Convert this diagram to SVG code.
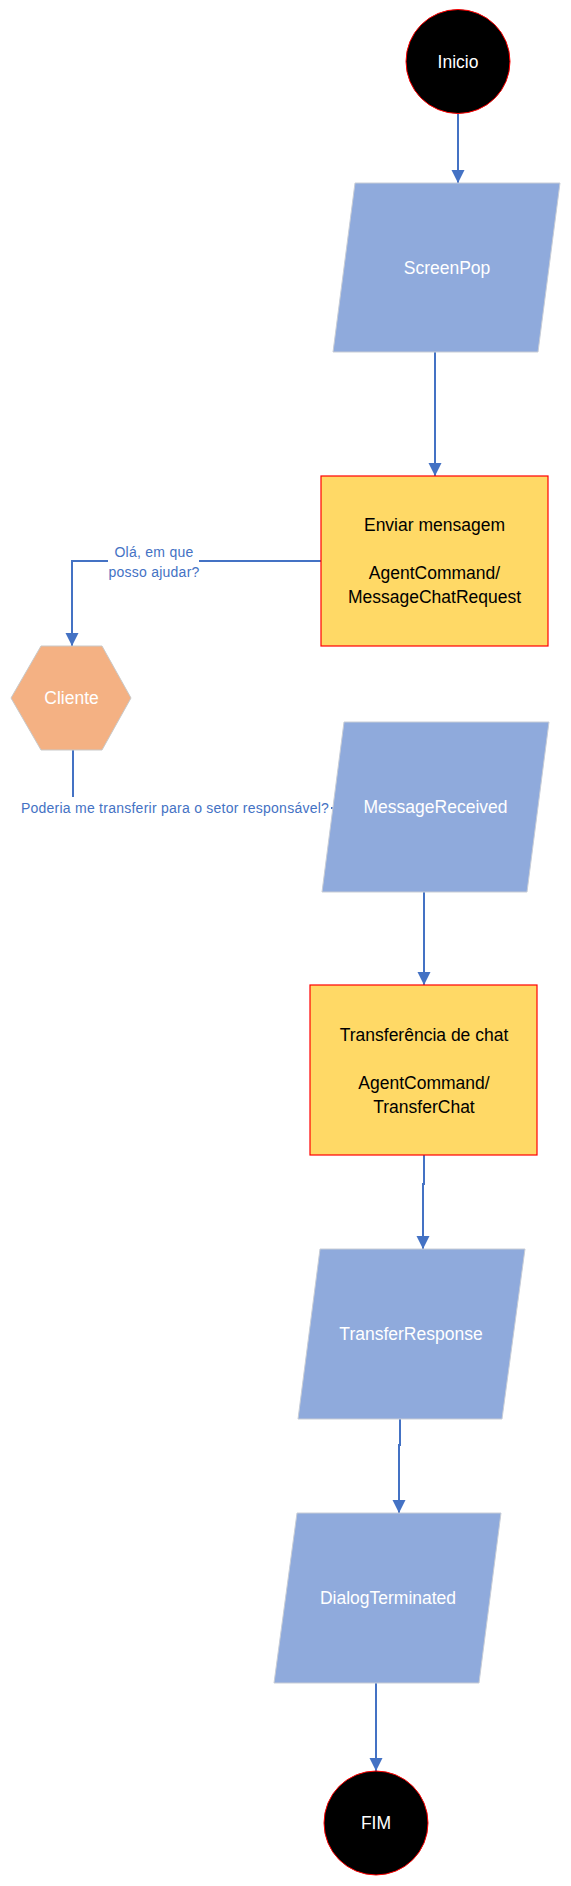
<svg xmlns="http://www.w3.org/2000/svg" width="571" height="1886" viewBox="0 0 571 1886">
<defs>
<style>
.conn{fill:none;stroke:#4472C4;stroke-width:2}
.term{fill:#000;stroke:#FF0000;stroke-width:1}
.io{fill:#8FAADC;stroke:#C8CDD6;stroke-width:1}
.proc{fill:#FFD966;stroke:#FF0000;stroke-width:1.2}
.hex{fill:#F4B183;stroke:#C9C9C9;stroke-width:1}
.t{font-family:"Liberation Sans",Arial,sans-serif;font-size:17.5px;text-anchor:middle}
.w{fill:#fff}
.k{fill:#000}
.lbl{font-family:"Liberation Sans",Arial,sans-serif;font-size:14px;fill:#4472C4;text-anchor:middle;letter-spacing:0.25px}
</style>
<marker id="arr" markerUnits="userSpaceOnUse" markerWidth="14" markerHeight="14" refX="13" refY="6.5" orient="auto">
<path d="M0,0 L13,6.5 L0,13 z" fill="#4472C4"/>
</marker>
</defs>
<rect x="0" y="0" width="571" height="1886" fill="#fff"/>
<g id="connectors">
<path class="conn" d="M458,114 V183" marker-end="url(#arr)"/>
<path class="conn" d="M435,352 V476" marker-end="url(#arr)"/>
<path class="conn" d="M321,561 H72 V646" marker-end="url(#arr)"/>
<path class="conn" d="M73,750 V808 H333" marker-end="url(#arr)"/>
<path class="conn" d="M424,892 V985" marker-end="url(#arr)"/>
<path class="conn" d="M424,1155 V1184 H423 V1249" marker-end="url(#arr)"/>
<path class="conn" d="M400,1419 V1445 H399 V1513" marker-end="url(#arr)"/>
<path class="conn" d="M376,1683 V1771" marker-end="url(#arr)"/>
<rect x="108" y="541" width="91" height="40" fill="#fff"/>
<text class="lbl" x="154" y="557">Olá, em que</text>
<text class="lbl" x="154" y="577">posso ajudar?</text>
<rect x="18" y="797" width="313" height="21" fill="#fff"/>
<text class="lbl" x="175" y="813">Poderia me transferir para o setor responsável?</text>
</g>
<g id="inicio">
<circle class="term" cx="458" cy="61.5" r="52"/>
<text class="t w" x="458" y="68">Inicio</text>
</g>
<g id="screenpop">
<polygon class="io" points="355,183 560,183 538,352 333,352"/>
<text class="t w" x="447" y="274">ScreenPop</text>
</g>
<g id="enviar">
<rect class="proc" x="321" y="476" width="227" height="170"/>
<text class="t k" x="434.5" y="531">Enviar mensagem</text>
<text class="t k" x="434.5" y="579">AgentCommand/</text>
<text class="t k" x="434.5" y="603">MessageChatRequest</text>
</g>
<g id="cliente">
<polygon class="hex" points="11,698 41,646 102,646 131,698 102,750 41,750"/>
<text class="t w" x="71.5" y="704">Cliente</text>
</g>
<g id="messagereceived">
<polygon class="io" points="344,722 549,722 527,892 322,892"/>
<text class="t w" x="435.5" y="813">MessageReceived</text>
</g>
<g id="transferencia">
<rect class="proc" x="310" y="985" width="227" height="170"/>
<text class="t k" x="424" y="1041">Transferência de chat</text>
<text class="t k" x="424" y="1089">AgentCommand/</text>
<text class="t k" x="424" y="1113">TransferChat</text>
</g>
<g id="transferresponse">
<polygon class="io" points="320,1249 525,1249 502,1419 298,1419"/>
<text class="t w" x="411" y="1340">TransferResponse</text>
</g>
<g id="dialogterminated">
<polygon class="io" points="297,1513 501,1513 479,1683 274,1683"/>
<text class="t w" x="388" y="1604">DialogTerminated</text>
</g>
<g id="fim">
<circle class="term" cx="376" cy="1823" r="52"/>
<text class="t w" x="376" y="1829">FIM</text>
</g>
</svg>
